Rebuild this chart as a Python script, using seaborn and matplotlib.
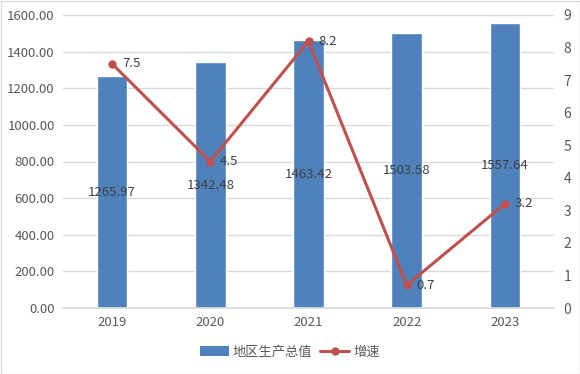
import matplotlib
matplotlib.use("Agg")
import matplotlib.pyplot as plt
import seaborn as sns
import pandas as pd
from matplotlib.patches import Rectangle
from matplotlib.lines import Line2D
from matplotlib.patches import Patch

years = ["2019", "2020", "2021", "2022", "2023"]
gdp = [1265.97, 1342.48, 1463.42, 1503.58, 1557.64]
growth = [7.5, 4.5, 8.2, 0.7, 3.2]
bar_label = "地区生产总值"
line_label = "增速"

sns.set_theme(style="white")
plt.rcParams['font.family'] = ['Noto Sans CJK SC', 'DejaVu Sans']

BAR = "#4F81BD"
LINE = "#C0504D"
TXT = "#595959"
LBL = "#404040"
GRID = "#D9D9D9"

fig = plt.figure(figsize=(5.8, 3.74), dpi=100)
ax = fig.add_axes([63/580, 1-308/374, (554-63)/580, (308-15)/374])

df = pd.DataFrame({"year": years, "gdp": gdp, "growth": growth})
sns.barplot(data=df, x="year", y="gdp", color=BAR, width=0.31, saturation=1, ax=ax)
ax.set_ylim(0, 1600)
ax.set_yticks(range(0, 1601, 200))
ax.set_yticklabels([f"{v:.2f}" for v in range(0, 1601, 200)])
ax.set_xlim(-0.5, 4.5)
ax.grid(axis="y", color=GRID, linewidth=1)
ax.set_axisbelow(True)
for s in ["top", "right", "left"]:
    ax.spines[s].set_visible(False)
ax.spines["bottom"].set_color(GRID)
ax.set_xlabel("")
ax.set_ylabel("")
ax.tick_params(axis="both", colors=TXT, labelsize=9.5, length=0, pad=6)

for i, v in enumerate(gdp):
    ax.text(i, v / 2, f"{v:.2f}", ha="center", va="center", fontsize=9.5, color=LBL)

ax2 = ax.twinx()
sns.lineplot(x=list(range(len(years))), y=growth, ax=ax2, color=LINE, linewidth=2.2,
             marker="o", markersize=6, markeredgewidth=0, legend=False)
ax2.set_ylim(0, 9)
ax2.set_yticks(range(0, 10))
for s in ["top", "right", "left", "bottom"]:
    ax2.spines[s].set_visible(False)
ax2.tick_params(axis="y", colors=TXT, labelsize=10, length=0, pad=7)
ax2.set_ylabel("")
for i, v in enumerate(growth):
    ax2.annotate(f"{v}", (i, v), xytext=(7, 0), textcoords="offset points",
                 ha="left", va="center", fontsize=9.5, color=LBL)

handles = [Patch(facecolor=BAR, edgecolor="none"),
           Line2D([0], [0], color=LINE, linewidth=2.2, marker="o", markersize=6, markeredgewidth=0)]
fig.legend(handles, [bar_label, line_label], loc="center", bbox_to_anchor=(0.5, 1-352/374),
           ncol=2, frameon=False, fontsize=9.5, labelcolor=TXT, handlelength=2.2,
           handletextpad=0.3, columnspacing=0.6)

fig.patches.append(Rectangle((0.5/580, 0.5/374), 1-1/580, 1-1/374, transform=fig.transFigure,
                             fill=False, edgecolor="#D9D9D9", linewidth=1))

fig.savefig("out.png", dpi=100)
